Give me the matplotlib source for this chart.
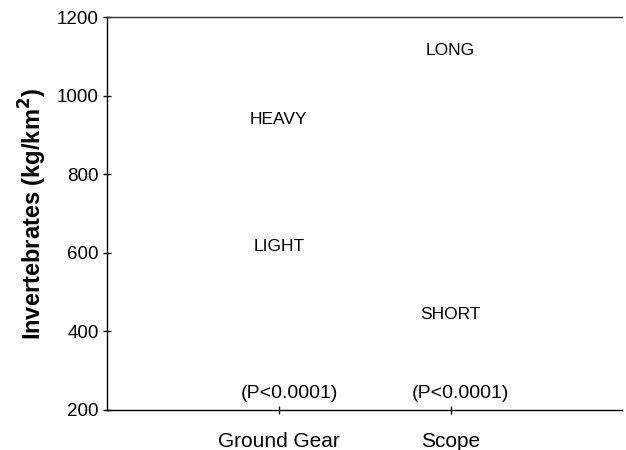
import matplotlib
matplotlib.use("Agg")
import matplotlib.pyplot as plt

plt.rcParams['font.family'] = ['Liberation Sans', 'DejaVu Sans']

# factors on the x axis and the mean biomass at each level
categories = ["Ground Gear", "Scope"]
level_names = [["HEAVY", "LIGHT"], ["LONG", "SHORT"]]
level_values = [[940, 617], [1116, 444]]
p_labels = ["(P<0.0001)", "(P<0.0001)"]
p_height = 243

fig = plt.figure(figsize=(6.26, 4.5), dpi=100)
ax = fig.add_axes([0.171, 0.089, 0.823, 0.873])

xpos = [1, 2]
for x, names, vals in zip(xpos, level_names, level_values):
    for name, v in zip(names, vals):
        ax.text(x, v, name, ha='center', va='center', fontsize=12.5)

for x, p in zip(xpos, p_labels):
    ax.text(x + 0.06, p_height, p, ha='center', va='center', fontsize=14)

ax.set_xlim(0, 3)
ax.set_ylim(200, 1200)
ax.set_xticks(xpos)
ax.set_xticklabels(categories, fontsize=15)
ax.set_yticks(range(200, 1201, 200))
ax.tick_params(axis='y', labelsize=13.5, direction='inout', length=6, width=1, pad=3)
ax.tick_params(axis='x', direction='inout', length=6, width=1, pad=13)

ax.set_ylabel("Invertebrates (kg/km$^\\mathbf{2}$)", fontsize=17, fontweight='bold', labelpad=6)

ax.spines['right'].set_visible(False)
for s in ['left', 'bottom', 'top']:
    ax.spines[s].set_linewidth(1)
ax.spines['top'].set_color('#333333')

fig.savefig("out.png", dpi=100)
